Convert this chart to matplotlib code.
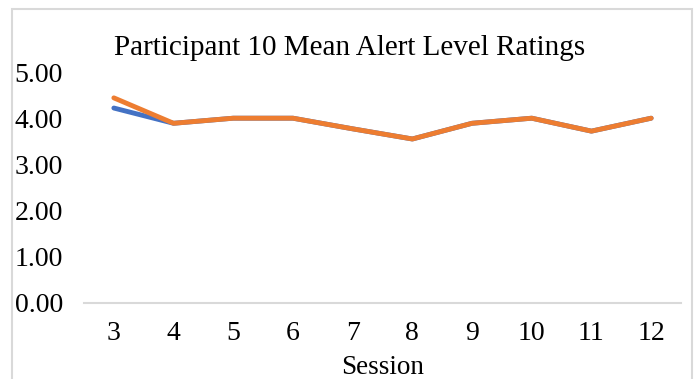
import matplotlib.pyplot as plt
from matplotlib.patches import Rectangle

plt.rcParams['font.family'] = ['Liberation Serif', 'DejaVu Serif']

sessions = ['3', '4', '5', '6', '7', '8', '9', '10', '11', '12']
alert_blue = [4.22, 3.89, 4.00, 4.00, 3.77, 3.55, 3.89, 4.00, 3.72, 4.00]
alert_orange = [4.44, 3.89, 4.00, 4.00, 3.77, 3.55, 3.89, 4.00, 3.72, 4.00]
y_ticks = [0, 1, 2, 3, 4, 5]

W, H = 694, 379
fig = plt.figure(figsize=(W / 100, H / 100), dpi=100)

# chart border
fig.patches.append(Rectangle((12 / W, -0.05), 680 / W, 1 - 9 / H + 0.05,
                             transform=fig.transFigure, fill=False,
                             edgecolor='#d9d9d9', linewidth=1.5))

ax = fig.add_axes([84 / W, 76 / H, 597 / W, 231 / H])
x = range(len(sessions))
ax.plot(x, alert_blue, color='#4472C4', linewidth=3.5, solid_capstyle='round')
ax.plot(x, alert_orange, color='#ED7D31', linewidth=3.5, solid_capstyle='round')

ax.set_xlim(-0.5, len(sessions) - 0.5)
ax.set_ylim(0, 5)
ax.set_xticks(list(x))
ax.set_xticklabels(sessions)
ax.set_yticks(y_ticks)
ax.set_yticklabels([f'{v:.2f}' for v in y_ticks])
ax.tick_params(axis='both', length=0, labelsize=20)
ax.tick_params(axis='y', pad=15)
ax.tick_params(axis='x', pad=13)

for side in ['top', 'right', 'left']:
    ax.spines[side].set_visible(False)
ax.spines['bottom'].set_color('#d9d9d9')
ax.spines['bottom'].set_linewidth(1.5)

fig.text(350 / W, 1 - 48 / H, 'Participant 10 Mean Alert Level Ratings',
         ha='center', va='center', fontsize=21)
fig.text(383 / W, 1 - 368 / H, 'Session', ha='center', va='center', fontsize=19.5)

fig.savefig('out.png', dpi=100)
